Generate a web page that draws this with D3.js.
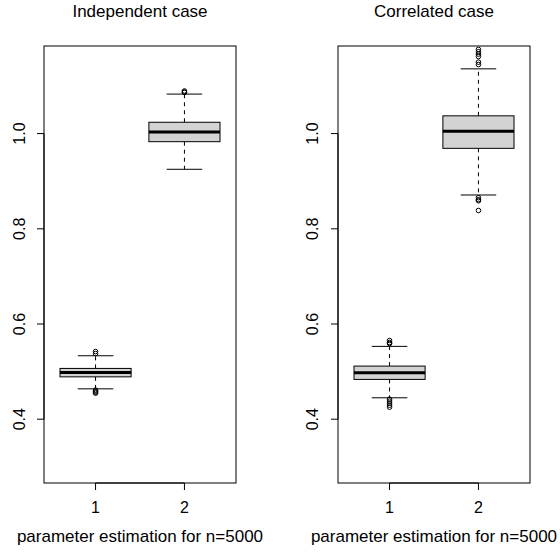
<!DOCTYPE html>
<html><head><meta charset="utf-8">
<script src="https://cdn.jsdelivr.net/npm/d3@7"></script>
<style>body{margin:0;background:#fff}svg{display:block}text{font-family:"Liberation Sans",Arial,sans-serif;fill:#000}</style>
</head><body>
<svg id="c" width="560" height="555"></svg>
<script>
const titles = ["Independent case", "Correlated case"];
const xLabel = "parameter estimation for n=5000";
const categories = [1, 2];
const yTicks = [0.4, 0.6, 0.8, 1.0];
const yLim = [0.3, 1.15];
// [lowerWhisker, q1, median, q3, upperWhisker]
const indepStats = [[0.4638, 0.489, 0.4983, 0.5067, 0.5333], [0.925, 0.983, 1.0036, 1.0238, 1.083]];
const indepOutliers = [[0.5421, 0.5379, 0.4611, 0.4589, 0.4568, 0.4547], [1.0895, 1.0874, 1.0863]];
const corrStats = [[0.445, 0.4836, 0.4975, 0.5116, 0.553], [0.871, 0.969, 1.0048, 1.0373, 1.136]];
const corrOutliers = [[0.5653, 0.5611, 0.5589, 0.4421, 0.4379, 0.4337, 0.4295, 0.4253], [1.1768, 1.172, 1.167, 1.162, 1.150, 1.145, 0.8653, 0.8611, 0.8589, 0.8385]];

(function () {
const panels = [
  {title: titles[0], stats: indepStats, outliers: indepOutliers, left: 44, right: 236, tickLabelX: 25},
  {title: titles[1], stats: corrStats, outliers: corrOutliers, left: 338, right: 530, tickLabelX: 318}
];
const plotTop = 46, plotBottom = 483;
const svg = d3.select("#c");
const ext = (yLim[1] - yLim[0]) * 0.04;
const y = d3.scaleLinear().domain([yLim[0] - ext, yLim[1] + ext]).range([plotBottom, plotTop]);

panels.forEach(p => {
  const x = d3.scaleLinear().domain([0.5 - 0.08, categories.length + 0.5 + 0.08]).range([p.left, p.right]);
  const g = svg.append("g");
  const bw = 0.8, cw = 0.4;
  p.stats.forEach((s, i) => {
    const c = categories[i];
    g.append("line").attr("x1", x(c)).attr("x2", x(c)).attr("y1", y(s[3])).attr("y2", y(s[4]))
      .attr("stroke", "#000").attr("stroke-dasharray", "4,4");
    g.append("line").attr("x1", x(c)).attr("x2", x(c)).attr("y1", y(s[1])).attr("y2", y(s[0]))
      .attr("stroke", "#000").attr("stroke-dasharray", "4,4");
    g.append("line").attr("x1", x(c - cw/2)).attr("x2", x(c + cw/2)).attr("y1", y(s[4])).attr("y2", y(s[4])).attr("stroke", "#000");
    g.append("line").attr("x1", x(c - cw/2)).attr("x2", x(c + cw/2)).attr("y1", y(s[0])).attr("y2", y(s[0])).attr("stroke", "#000");
    g.append("rect").attr("x", x(c - bw/2)).attr("width", x(c + bw/2) - x(c - bw/2))
      .attr("y", y(s[3])).attr("height", y(s[1]) - y(s[3]))
      .attr("fill", "#d3d3d3").attr("stroke", "#000");
    g.append("line").attr("x1", x(c - bw/2)).attr("x2", x(c + bw/2)).attr("y1", y(s[2])).attr("y2", y(s[2]))
      .attr("stroke", "#000").attr("stroke-width", 3);
    p.outliers[i].forEach(v => {
      g.append("circle").attr("cx", x(c)).attr("cy", y(v)).attr("r", 2.3)
        .attr("fill", "none").attr("stroke", "#000");
    });
  });
  g.append("rect").attr("x", p.left).attr("y", plotTop).attr("width", p.right - p.left).attr("height", plotBottom - plotTop)
    .attr("fill", "none").attr("stroke", "#000");
  g.append("line").attr("x1", p.left).attr("x2", p.left).attr("y1", y(yTicks[0])).attr("y2", y(yTicks[yTicks.length-1])).attr("stroke", "#000");
  yTicks.forEach(t => {
    g.append("line").attr("x1", p.left - 7).attr("x2", p.left).attr("y1", y(t)).attr("y2", y(t)).attr("stroke", "#000");
    g.append("text").attr("transform", `translate(${p.tickLabelX},${y(t)}) rotate(-90)`)
      .attr("text-anchor", "middle").attr("font-size", 16).text(d3.format(".1f")(t));
  });
  g.append("line").attr("x1", x(categories[0])).attr("x2", x(categories[categories.length-1])).attr("y1", plotBottom).attr("y2", plotBottom).attr("stroke", "#000");
  categories.forEach(c => {
    g.append("line").attr("x1", x(c)).attr("x2", x(c)).attr("y1", plotBottom).attr("y2", plotBottom + 7).attr("stroke", "#000");
    g.append("text").attr("x", x(c)).attr("y", 513).attr("text-anchor", "middle").attr("font-size", 16).text(c);
  });
  const cx = (p.left + p.right) / 2;
  g.append("text").attr("x", cx).attr("y", 17).attr("text-anchor", "middle").attr("font-size", 17).text(p.title);
  g.append("text").attr("x", cx).attr("y", 542).attr("text-anchor", "middle").attr("font-size", 17).text(xLabel);
});
})();
</script>
</body></html>
